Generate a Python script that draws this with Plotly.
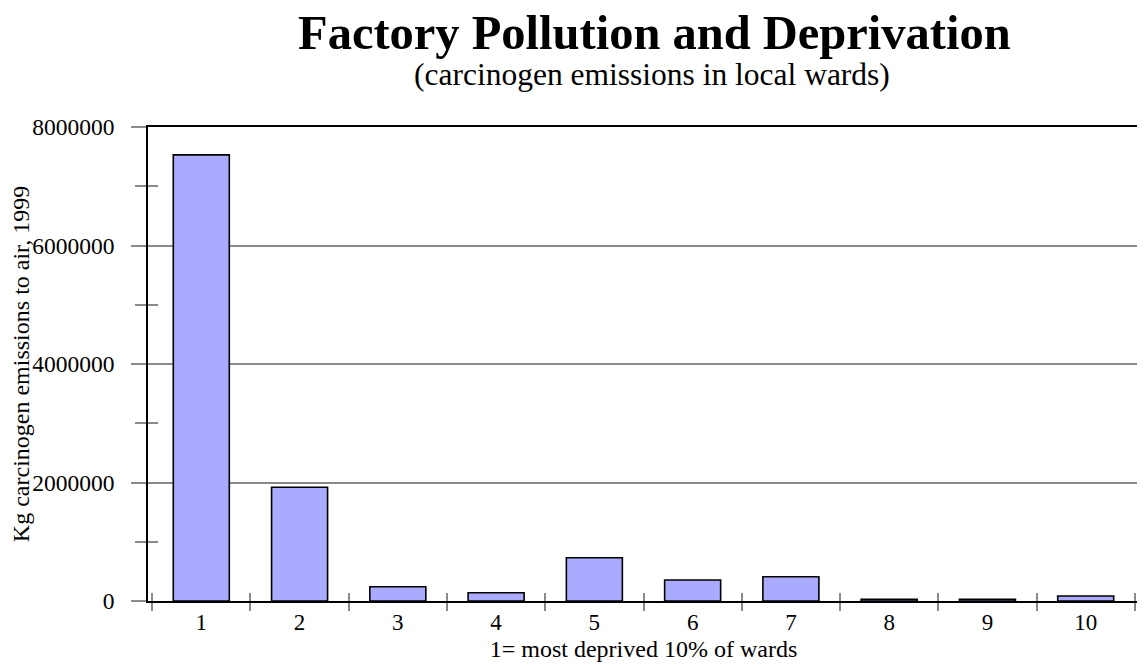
import plotly.graph_objects as go

categories = ["1", "2", "3", "4", "5", "6", "7", "8", "9", "10"]
emissions = [7530000, 1920000, 240000, 140000, 730000, 355000, 410000, 30000, 30000, 85000]
y_ticks = [0, 2000000, 4000000, 6000000, 8000000]

title_text = "Factory Pollution and Deprivation"
subtitle_text = "(carcinogen emissions in local wards)"
x_title = "1= most deprived 10% of wards"
y_title = "Kg carcinogen emissions to air, 1999"

FONT = "Liberation Serif, Times New Roman, serif"
GRAY = "#8a8a8a"

fig = go.Figure()
fig.add_trace(go.Bar(
    x=categories, y=emissions, width=0.57,
    marker=dict(color="#aaaaff", line=dict(color="black", width=1.6)),
    hoverinfo="x+y", showlegend=False,
))
# invisible helper trace for overlay axes (crossing tick marks)
fig.add_trace(go.Scatter(
    x=categories, y=emissions, xaxis="x2", yaxis="y2", mode="markers",
    marker=dict(opacity=0), hoverinfo="skip", showlegend=False,
))

fig.update_layout(
    width=1137, height=657,
    margin=dict(l=140, r=6, t=119, b=64),
    paper_bgcolor="white", plot_bgcolor="white",
    font=dict(family=FONT, color="black", size=24),
    xaxis=dict(
        type="category", categoryorder="array", categoryarray=categories,
        tickson="boundaries", ticks="outside", ticklen=8, tickwidth=1.5, tickcolor=GRAY,
        showline=True, linecolor="black", linewidth=1.6, mirror=True,
        showgrid=False, tickfont=dict(size=23), automargin=False,
        title=dict(text=x_title, font=dict(size=24), standoff=6),
    ),
    xaxis2=dict(
        type="category", categoryorder="array", categoryarray=categories,
        overlaying="x", matches="x", side="bottom", automargin=False,
        tickson="boundaries", ticks="inside", ticklen=8, tickwidth=1.5, tickcolor=GRAY,
        showticklabels=False, showgrid=False, showline=False, zeroline=False,
    ),
    yaxis=dict(
        range=[0, 8000000], tickvals=y_ticks, tickformat="d",
        ticks="outside", ticklen=15, tickwidth=1.5, tickcolor=GRAY,
        minor=dict(dtick=1000000, ticks="outside", ticklen=11, tickwidth=1.5, tickcolor=GRAY, showgrid=False),
        showgrid=True, gridcolor=GRAY, gridwidth=1.5,
        showline=True, linecolor="black", linewidth=1.6, mirror=True,
        zeroline=False, tickfont=dict(size=23.5), ticklabelstandoff=12, automargin=False,
        title=dict(text=y_title, font=dict(size=24), standoff=6),
    ),
    yaxis2=dict(
        range=[0, 8000000], overlaying="y", side="left", tickvals=y_ticks, automargin=False,
        ticks="inside", ticklen=15, tickwidth=1.5, tickcolor=GRAY,
        minor=dict(dtick=1000000, ticks="inside", ticklen=10, tickwidth=1.5, tickcolor=GRAY, showgrid=False),
        showticklabels=False, showgrid=False, showline=False, zeroline=False,
    ),
    annotations=[
        dict(text="<b>" + title_text + "</b>", xref="paper", yref="paper",
             x=0.5116, y=1.2, xanchor="center", yanchor="middle", showarrow=False,
             font=dict(size=48.5, family=FONT)),
        dict(text=subtitle_text, xref="paper", yref="paper",
             x=0.509, y=1.11, xanchor="center", yanchor="middle", showarrow=False,
             font=dict(size=31.5, family=FONT)),
    ],
)

fig.write_html("out.html")
